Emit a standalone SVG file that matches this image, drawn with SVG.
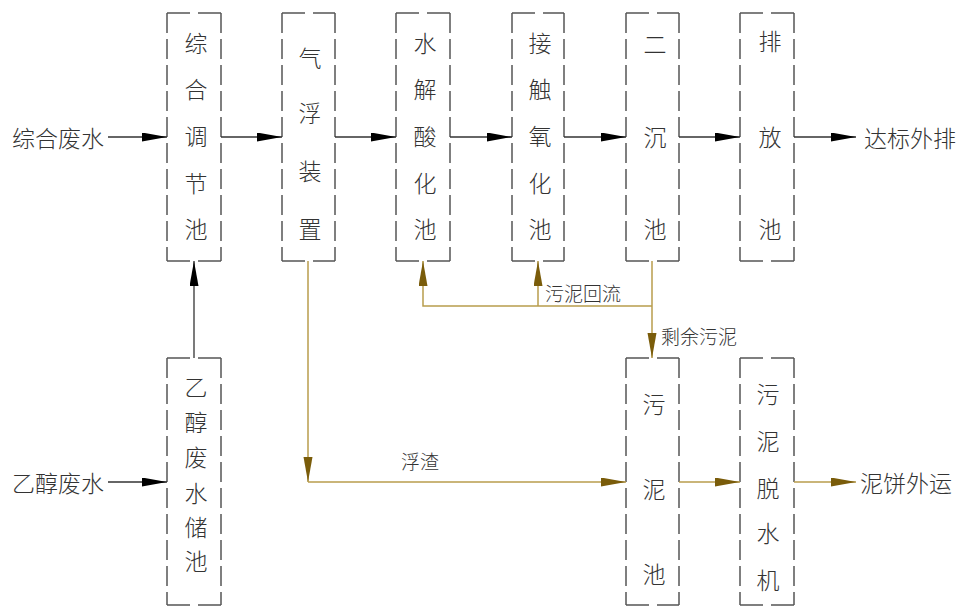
<svg xmlns="http://www.w3.org/2000/svg" width="964" height="606" viewBox="0 0 964 606">
<style>
.bx{fill:none;stroke:#555;stroke-width:1.5}
.v{stroke-dasharray:20 6}
.h{stroke-dasharray:23 8}
.t{font-family:"Noto Sans CJK SC","Noto Sans CJK TC",sans-serif;font-weight:300;font-size:23px;fill:#333;text-anchor:middle;dominant-baseline:central}
.s{font-family:"Noto Sans CJK SC",sans-serif;font-weight:300;font-size:23px;fill:#333;dominant-baseline:central}
.l{font-family:"Noto Sans CJK SC",sans-serif;font-weight:300;font-size:19px;fill:#333;dominant-baseline:central}
.k{fill:none;stroke:#333;stroke-width:1.3}
.b{fill:none;stroke:#b89d4c;stroke-width:1.5}
</style>
<defs>
<marker id="ak" markerUnits="userSpaceOnUse" markerWidth="26" markerHeight="10" refX="25" refY="4.5" orient="auto"><path d="M0,0 L25,4.5 L0,9 z" fill="#000"/></marker>
<marker id="ab" markerUnits="userSpaceOnUse" markerWidth="26" markerHeight="10" refX="25" refY="4.5" orient="auto"><path d="M0,0 L25,4.5 L0,9 z" fill="#7a5c0a"/></marker>
</defs>
<g id="n1"><path class="bx h" d="M167,13 H221 M167,261 H221"/><path class="bx v" d="M167,13 V261 M221,13 V261"/>
<text class="t" x="196" y="42">综</text><text class="t" x="196" y="88">合</text><text class="t" x="196" y="135">调</text><text class="t" x="196" y="182">节</text><text class="t" x="196" y="228">池</text></g>
<g id="n2"><path class="bx h" d="M282,13 H335 M282,261 H335"/><path class="bx v" d="M282,13 V261 M335,13 V261"/>
<text class="t" x="310" y="57">气</text><text class="t" x="310" y="112">浮</text><text class="t" x="310" y="170">装</text><text class="t" x="310" y="228">置</text></g>
<g id="n3"><path class="bx h" d="M396,13 H450 M396,261 H450"/><path class="bx v" d="M396,13 V261 M450,13 V261"/>
<text class="t" x="425" y="42">水</text><text class="t" x="425" y="88">解</text><text class="t" x="425" y="135">酸</text><text class="t" x="425" y="182">化</text><text class="t" x="425" y="228">池</text></g>
<g id="n4"><path class="bx h" d="M512,13 H564 M512,261 H564"/><path class="bx v" d="M512,13 V261 M564,13 V261"/>
<text class="t" x="540" y="42">接</text><text class="t" x="540" y="88">触</text><text class="t" x="540" y="135">氧</text><text class="t" x="540" y="182">化</text><text class="t" x="540" y="228">池</text></g>
<g id="n5"><path class="bx h" d="M626,13 H679 M626,261 H679"/><path class="bx v" d="M626,13 V261 M679,13 V261"/>
<text class="t" x="655" y="43">二</text><text class="t" x="655" y="136">沉</text><text class="t" x="655" y="228">池</text></g>
<g id="n6"><path class="bx h" d="M740,13 H794 M740,261 H794"/><path class="bx v" d="M740,13 V261 M794,13 V261"/>
<text class="t" x="770" y="40">排</text><text class="t" x="770" y="136">放</text><text class="t" x="770" y="228">池</text></g>
<g id="n7"><path class="bx h" d="M167,358 H221 M167,605 H221"/><path class="bx v" d="M167,358 V605 M221,358 V605"/>
<text class="t" x="196" y="386">乙</text><text class="t" x="196" y="421">醇</text><text class="t" x="196" y="456">废</text><text class="t" x="196" y="492">水</text><text class="t" x="196" y="526">储</text><text class="t" x="196" y="560">池</text></g>
<g id="n8"><path class="bx h" d="M626,358 H679 M626,605 H679"/><path class="bx v" d="M626,358 V605 M679,358 V605"/>
<text class="t" x="654" y="403">污</text><text class="t" x="654" y="488">泥</text><text class="t" x="654" y="573">池</text></g>
<g id="n9"><path class="bx h" d="M740,358 H794 M740,605 H794"/><path class="bx v" d="M740,358 V605 M794,358 V605"/>
<text class="t" x="768" y="393">污</text><text class="t" x="768" y="440">泥</text><text class="t" x="768" y="487">脱</text><text class="t" x="768" y="532">水</text><text class="t" x="768" y="579">机</text></g>
<g id="labels">
<text class="s" x="12" y="137">综合废水</text>
<text class="s" x="12" y="482">乙醇废水</text>
<text class="s" x="864" y="137">达标外排</text>
<text class="s" x="860" y="482">泥饼外运</text>
<text class="l" x="401" y="460">浮渣</text>
<text class="l" x="545" y="292">污泥回流</text>
<text class="l" x="661" y="335">剩余污泥</text>
</g>
<g id="connectors">
<path class="k" d="M108,137 H167" marker-end="url(#ak)"/>
<path class="k" d="M221,137 H282" marker-end="url(#ak)"/>
<path class="k" d="M335,137 H396" marker-end="url(#ak)"/>
<path class="k" d="M450,137 H512" marker-end="url(#ak)"/>
<path class="k" d="M564,137 H626" marker-end="url(#ak)"/>
<path class="k" d="M679,137 H740" marker-end="url(#ak)"/>
<path class="k" d="M794,137 H856" marker-end="url(#ak)"/>
<path class="k" d="M108,482 H167" marker-end="url(#ak)"/>
<path class="k" d="M194,358 V261" marker-end="url(#ak)"/>
<path class="b" d="M308,261 V482" marker-end="url(#ab)"/>
<path class="b" d="M308,482 H626" marker-end="url(#ab)"/>
<path class="b" d="M679,482 H740" marker-end="url(#ab)"/>
<path class="b" d="M794,482 H856" marker-end="url(#ab)"/>
<path class="b" d="M652,261 V358" marker-end="url(#ab)"/>
<path class="b" d="M652,306 H423 V261" marker-end="url(#ab)"/>
<path class="b" d="M538,306 V261" marker-end="url(#ab)"/>
</g>
</svg>
